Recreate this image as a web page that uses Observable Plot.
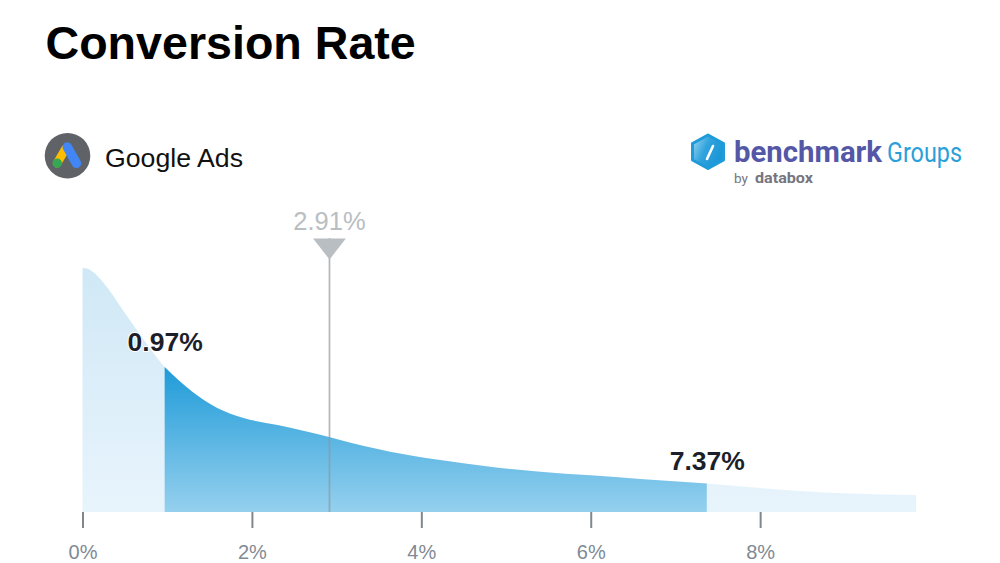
<!DOCTYPE html>
<html>
<head>
<meta charset="utf-8">
<script src="https://cdn.jsdelivr.net/npm/d3@7"></script>
<script src="https://cdn.jsdelivr.net/npm/@observablehq/plot@0.6"></script>
<style>
html,body{margin:0;padding:0;background:#fff;}
#page{position:relative;width:1000px;height:563px;overflow:hidden;font-family:"Liberation Sans",Arial,sans-serif;}
#head{position:absolute;left:0;top:0;width:1000px;height:200px;}
#title{position:absolute;left:45.5px;top:16px;margin:0;font-size:46.6px;line-height:54px;font-weight:700;color:#000;}
#chart{position:absolute;left:0;top:200px;}
#chart svg{display:block;}
</style>
</head>
<body>
<div id="page">
  <div id="head">
    <h1 id="title">Conversion Rate</h1>
    <svg width="1000" height="200" style="position:absolute;left:0;top:0">
      <defs>
        <linearGradient id="hex" x1="0" y1="0" x2="1" y2="0.5">
          <stop offset="0" stop-color="#a6d8f2"/><stop offset="0.5" stop-color="#2fa3dd"/><stop offset="1" stop-color="#1a96d6"/>
        </linearGradient>
      </defs>
      <circle cx="67.5" cy="155.7" r="22.8" fill="#5f6368"/>
      <path d="M65.7 148.5 L57 163.3" stroke="#fbbc04" stroke-width="8.5" stroke-linecap="round"/>
      <path d="M67.3 147 L76.5 163.3" stroke="#4285f4" stroke-width="9.5" stroke-linecap="round"/>
      <circle cx="57.3" cy="163.3" r="4.7" fill="#34a853"/>
      <text x="105" y="167" font-family="Liberation Sans" font-size="26.7" fill="#111">Google Ads</text>
      <path d="M708 135 L723.5 143.5 L723.5 160 L708 168.5 L692.5 160 L692.5 143.5 Z" fill="url(#hex)" stroke="#1f9bd9" stroke-width="3" stroke-linejoin="round"/>
      <path d="M713 146 L707 159" stroke="#fff" stroke-width="2.6" stroke-linecap="round"/>
      <text x="734" y="162" font-family="Roboto" font-weight="700" font-size="29" fill="#5457a6" textLength="148" lengthAdjust="spacingAndGlyphs">benchmark</text>
      <text x="887" y="162" font-family="Roboto" font-size="27" fill="#2a9fd8" textLength="75" lengthAdjust="spacingAndGlyphs">Groups</text>
      <text x="734" y="183" font-family="Roboto" font-size="13.5" fill="#75757f">by</text>
      <text x="755" y="183" font-family="Roboto" font-weight="700" font-size="14" fill="#75757f" textLength="58" lengthAdjust="spacingAndGlyphs">databox</text>
    </svg>
  </div>
  <div id="chart"></div>
</div>
<script>
// Conversion rate (%) and density height
const rates = [0, 0.05, 0.1, 0.22, 0.34, 0.46, 0.7, 0.97, 1.3, 1.59, 1.9, 2.3, 2.91, 3.04, 3.63, 4.22, 4.81, 5.4, 5.99, 6.58, 7.37, 8.0, 8.47, 9.06, 9.84];
const heights = [244, 243.4, 241.5, 232, 219, 204, 175, 145, 120, 104, 94, 87, 75, 72, 60.3, 52, 45.3, 40.3, 36.7, 33, 28.5, 24, 21, 18.5, 17];

const lowerRate = 0.97, upperRate = 7.37, medianRate = 2.91;
const lowerHeight = 145, upperHeight = 28.5, medianTop = 274, medianTip = 253;
const tickValues = [0, 2, 4, 6, 8];

const curve = rates.map((x, i) => ({x, y: heights[i]}));
const middle = curve.filter(d => d.x >= lowerRate && d.x <= upperRate);

const downTriangle = {draw(c, size) {
  const w = Math.sqrt(size), h = w * 0.64;
  c.moveTo(0, 0); c.lineTo(-w / 2, -h); c.lineTo(w / 2, -h); c.closePath();
}};

function gradients() {
  const ns = "http://www.w3.org/2000/svg";
  const defs = document.createElementNS(ns, "defs");
  const add = (id, a, b) => {
    const g = document.createElementNS(ns, "linearGradient");
    g.setAttribute("id", id); g.setAttribute("x1", 0); g.setAttribute("y1", 0); g.setAttribute("x2", 0); g.setAttribute("y2", 1);
    [[0, a], [1, b]].forEach(([o, c]) => {
      const s = document.createElementNS(ns, "stop");
      s.setAttribute("offset", o); s.setAttribute("stop-color", c); g.appendChild(s);
    });
    defs.appendChild(g);
  };
  add("lightFill", "#d0e8f6", "#e8f4fc");
  add("blueFill", "#1f9bd8", "#95d0ee");
  return defs;
}

const chart = Plot.plot({
  width: 1000, height: 363,
  marginLeft: 82.5, marginRight: 84, marginTop: 0, marginBottom: 51,
  x: {domain: [0, 9.84]},
  y: {domain: [0, 312], axis: null},
  style: {background: "#fff", fontFamily: "Liberation Sans"},
  marks: [
    gradients,
    Plot.areaY(curve, {x: "x", y: "y", curve: "monotone-x", fill: "url(#lightFill)"}),
    Plot.areaY(middle, {x: "x", y: "y", curve: "monotone-x", fill: "url(#blueFill)"}),
    Plot.ruleX([medianRate], {y1: 0, y2: medianTop, stroke: "#8e979f", strokeOpacity: 0.7, strokeWidth: 1.7}),
    Plot.dot([medianRate], {x: d => d, y: () => medianTip, symbol: downTriangle, r: 18.5, fill: "#b9bec3"}),
    Plot.axisX({ticks: tickValues, tickFormat: d => d + "%", tickSize: 16, tickPadding: 16, stroke: "#7d8891", strokeWidth: 2, strokeOpacity: 1, fill: "#7f8a94", fontSize: 20, label: null}),
    Plot.text([medianRate], {x: d => d, y: () => medianTop, text: d => d + "%", dy: -9, lineAnchor: "bottom", fill: "#b9bec3", fontSize: 25.5}),
    Plot.text([[lowerRate, lowerHeight]], {x: d => d[0], y: d => d[1], text: d => d[0] + "%", dy: -17, lineAnchor: "bottom", fill: "#1c1f2a", fontSize: 26.5, fontWeight: 700, stroke: "#fff", strokeWidth: 2}),
    Plot.text([[upperRate, upperHeight]], {x: d => d[0], y: d => d[1], text: d => d[0] + "%", dy: -14, lineAnchor: "bottom", fill: "#1c1f2a", fontSize: 26.5, fontWeight: 700})
  ]
});
document.getElementById("chart").appendChild(chart);
</script>
</body>
</html>
